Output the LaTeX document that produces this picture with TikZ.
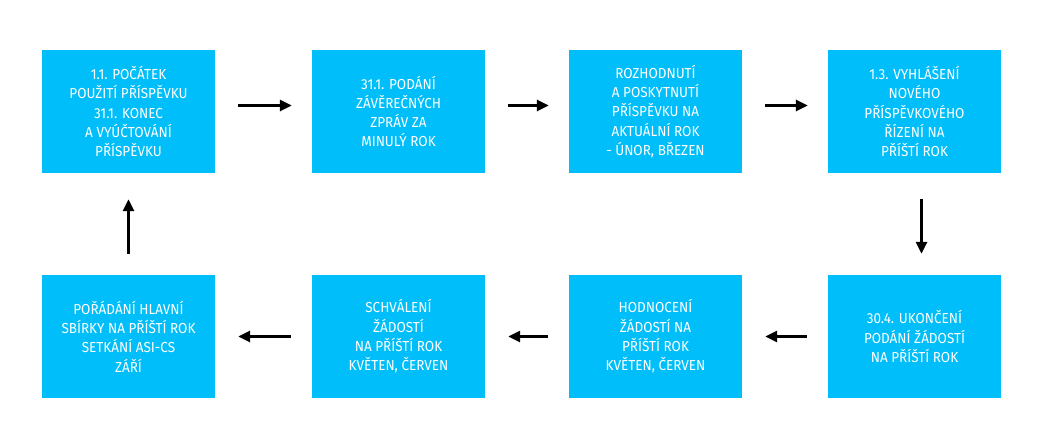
\documentclass[tikz,border=0pt]{standalone}
\usepackage{fontspec}
\setmainfont{Fira Sans}[FakeStretch=0.93]
\usetikzlibrary{arrows.meta}
\definecolor{boxcyan}{RGB}{0,190,249}
\begin{document}
\begin{tikzpicture}[x=1pt,y=-1pt,
  stepbox/.style={fill=boxcyan,draw=none,minimum width=173pt,minimum height=123pt,
    inner sep=0pt,text=white,align=center,
    font=\fontsize{14.5}{19.3}\selectfont},
  flow/.style={line width=3pt,-{Triangle[length=12pt,width=11pt]},
    shorten <=23pt,shorten >=20pt}]
\useasboundingbox[fill=white] (0,0) rectangle (1047,439);
\node[stepbox] (a) at (128.5,111.5) {1.1. POČÁTEK\\POUŽITÍ PŘÍSPĚVKU\\31.1. KONEC\\A VYÚČTOVÁNÍ\\PŘÍSPĚVKU};
\node[stepbox] (b) at (398.5,111.5) {31.1. PODÁNÍ\\ZÁVĚREČNÝCH\\ZPRÁV ZA\\MINULÝ ROK};
\node[stepbox] (c) at (655.5,111.5) {ROZHODNUTÍ\\A POSKYTNUTÍ\\PŘÍSPĚVKU NA\\AKTUÁLNÍ ROK\\- ÚNOR, BŘEZEN};
\node[stepbox] (d) at (914.5,111.5) {1.3. VYHLÁŠENÍ\\NOVÉHO\\PŘÍSPĚVKOVÉHO\\ŘÍZENÍ NA\\PŘÍŠTÍ ROK};
\node[stepbox] (e) at (914.5,336.5) {30.4. UKONČENÍ\\PODÁNÍ ŽÁDOSTÍ\\NA PŘÍŠTÍ ROK};
\node[stepbox] (f) at (655.5,336.5) {HODNOCENÍ\\ŽÁDOSTÍ NA\\PŘÍŠTÍ ROK\\KVĚTEN, ČERVEN};
\node[stepbox] (g) at (398.5,336.5) {SCHVÁLENÍ\\ŽÁDOSTÍ\\NA PŘÍŠTÍ ROK\\KVĚTEN, ČERVEN};
\node[stepbox] (h) at (128.5,336.5) {POŘÁDÁNÍ HLAVNÍ\\SBÍRKY NA PŘÍŠTÍ ROK\\SETKÁNÍ ASI-CS\\ZÁŘÍ};
\draw[flow] ([yshift=6pt]a.east) -- ([yshift=6pt]b.west);
\draw[flow] ([yshift=6pt]b.east) -- ([yshift=6pt]c.west);
\draw[flow] ([yshift=6pt]c.east) -- ([yshift=6pt]d.west);
\draw[flow,shorten <=26pt,shorten >=21pt] ([xshift=7pt]d.south) -- ([xshift=7pt]e.north);
\draw[flow,shorten <=21pt,shorten >=23pt] (e.west) -- (f.east);
\draw[flow,shorten <=21pt,shorten >=23pt] (f.west) -- (g.east);
\draw[flow,shorten <=21pt,shorten >=23pt] (g.west) -- (h.east);
\draw[flow,shorten <=21pt,shorten >=26pt] (h.north) -- (a.south);
\end{tikzpicture}
\end{document}
